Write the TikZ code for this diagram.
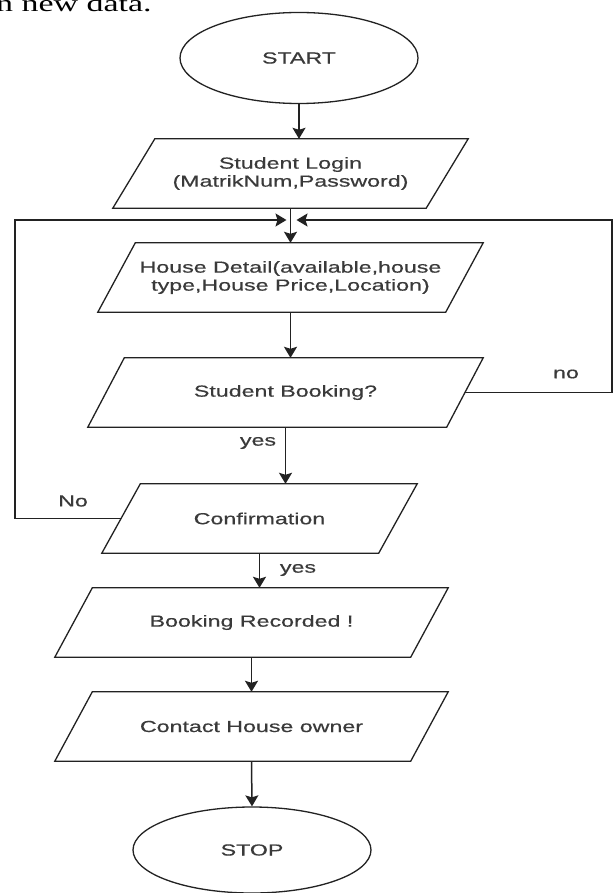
\documentclass[tikz,border=0pt]{standalone}
\usepackage{fontspec}
\setmainfont{Liberation Sans}
% widened faces: the chart is set in a stretched sans, the page text in a stretched serif
\newfontfamily\flowfont[FakeStretch=1.45,FakeBold=0.5]{Liberation Sans}
\newfontfamily\bodyfont[FakeStretch=1.45]{Liberation Serif}
\usetikzlibrary{shapes.geometric,arrows.meta,calc}

\definecolor{ink}{HTML}{222222}
\definecolor{labelgrey}{HTML}{3A3A3A}

\tikzset{
  flowtext/.style={font=\flowfont\fontsize{16}{18}\selectfont, text=labelgrey},
  iobox/.style={flowtext, inner sep=0pt, minimum height=69pt, align=center},
  terminal/.style={flowtext, draw=ink, line width=1.3pt, ellipse, inner sep=0pt},
  link/.style={draw=ink, line width=1.5pt},
  arr/.style={link, -{Stealth[length=11pt,width=13pt,inset=2pt]}},
  tag/.style={flowtext, inner sep=0pt},
}

\begin{document}
\begin{tikzpicture}[x=1pt,y=-1pt]
\useasboundingbox (0,0) rectangle (614,893);
\clip (0,0) rectangle (614,893);
\fill[white] (0,0) rectangle (614,893);

% tail of the paragraph above the chart
\node[anchor=base west, inner sep=0pt, font=\bodyfont\fontsize{23.4}{28}\selectfont] (para) at (-4,12) {n new data.};

% terminals
\node[terminal, minimum width=238pt, minimum height=91pt] (start) at (299,58) {START};
\node[terminal, minimum width=238pt, minimum height=86pt] (stop) at (252,850) {STOP};

% input/output steps (text boxes; outlines drawn below)
\node[iobox, minimum width=355pt] (login)   at (290.5,173.5) {Student Login\\(MatrikNum,Password)};
\node[iobox, minimum width=385pt] (house)   at (290.5,277.5) {House Detail(available,house\\type,House Price,Location)};
\node[iobox, minimum width=395pt] (booking) at (285.5,392.5) {Student Booking?};
\node[iobox, minimum width=315pt] (confirm) at (259.5,518.5) {Confirmation};
\node[iobox, minimum width=393pt] (record)  at (251.5,622.5) {Booking Recorded !};
\node[iobox, minimum width=393pt] (contact) at (251.5,726.5) {Contact House owner};

% parallelogram outlines, slanted by \s
\foreach \n/\s in {login/42,house/37.5,booking/36.5,confirm/38.5,record/37.5,contact/37.5}
  \draw[link, line width=1.3pt] ($(\n.north west)+(\s,0)$) -- (\n.north east)
        -- ($(\n.south east)+(-\s,0)$) -- (\n.south west) -- cycle;

% main flow
\draw[arr] (start.south) -- (start.south |- login.north);
\draw[arr] (login.south) -- (login.south |- house.north);
\draw[arr] (house.south) -- (house.south |- booking.north);
\draw[arr] (booking.south) -- (booking.south |- confirm.north);
\draw[arr] (confirm.south) -- (confirm.south |- record.north);
\draw[arr] (record.south) -- (record.south |- contact.north);
\draw[arr] (contact.south) -- (stop.north);

% return paths into the junction above House Detail
\coordinate (jl) at ($(login.south |- 0,220)+(-4,0)$);
\coordinate (jr) at ($(login.south |- 0,220)+(6,0)$);
\coordinate (lc) at (15,220);
\coordinate (rc) at (612,220);
\coordinate (cl) at ($(confirm.west)+(19.25,0)$);
\coordinate (br) at ($(booking.east)+(-18.25,0)$);
\draw[arr] (cl) -| (lc) -- (jl);
\draw[arr] (br) -| (rc) -- (jr);

% branch labels
\node[tag] (lno)   at (566,374) {no};
\node[tag] (lyes1) at (258,443) {yes};
\node[tag] (lNo)   at (73,501)  {No};
\node[tag] (lyes2) at (298,570) {yes};
\end{tikzpicture}
\end{document}
